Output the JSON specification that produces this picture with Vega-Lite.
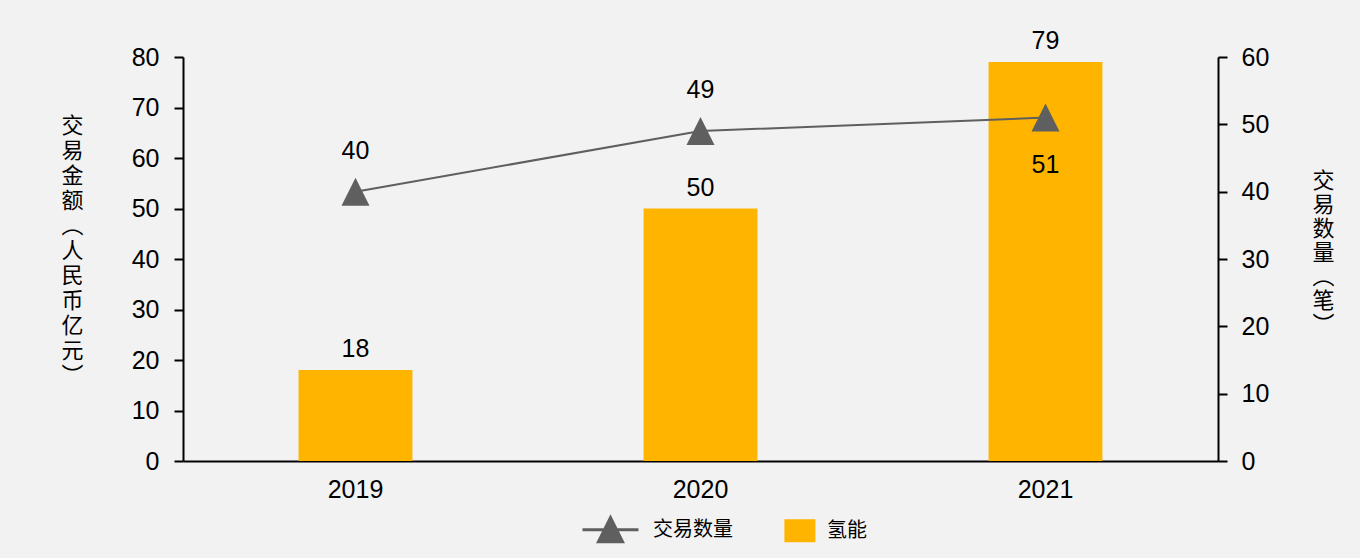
{
  "$schema": "https://vega.github.io/schema/vega-lite/v6.json",
  "width": 1035,
  "height": 404,
  "autosize": {"type": "none"},
  "padding": {"left": 183, "top": 57, "right": 142, "bottom": 97},
  "background": "#f2f2f2",
  "config": {
    "view": {"stroke": null},
    "axis": {
      "grid": false,
      "domainColor": "#000000",
      "domainWidth": 2,
      "tickColor": "#000000",
      "tickWidth": 2,
      "tickSize": 9,
      "labelColor": "#000000",
      "labelFont": "Liberation Sans",
      "labelFontSize": 25,
      "titleColor": "#000000",
      "titleFont": "Noto Sans CJK SC",
      "titleFontWeight": "normal",
      "titleFontSize": 22
    }
  },
  "data": {
    "values": [
      {"year": "2019", "amount": 18, "count": 40},
      {"year": "2020", "amount": 50, "count": 49},
      {"year": "2021", "amount": 79, "count": 51}
    ]
  },
  "encoding": {
    "x": {
      "field": "year",
      "type": "nominal",
      "scale": {"paddingInner": 0, "paddingOuter": 0},
      "axis": {"title": null, "labelAngle": 0, "ticks": false, "labelPadding": 16}
    }
  },
  "layer": [
    {
      "layer": [
        {
          "mark": {"type": "bar", "width": {"band": 0.33}},
          "encoding": {
            "y": {
              "field": "amount",
              "type": "quantitative",
              "scale": {"domain": [0, 80]},
              "axis": {
                "values": [0, 10, 20, 30, 40, 50, 60, 70, 80],
                "labelPadding": 15,
                "title": ["交", "易", "金", "额", "︵", "人", "民", "币", "亿", "元", "︶"],
                "titleAngle": 0,
                "titleAlign": "center",
                "titleBaseline": "top",
                "titleX": -111,
                "titleY": 58,
                "titleLineHeight": 25
              }
            },
            "color": {
              "datum": "氢能",
              "type": "nominal",
              "scale": {"domain": ["交易数量", "氢能"], "range": ["#5f5f5f", "#ffb500"]},
              "legend": {
                "orient": "none",
                "legendX": 405,
                "legendY": 443,
                "direction": "horizontal",
                "title": null,
                "padding": 0,
                "symbolSize": 3136,
                "symbolStrokeWidth": 3,
                "labelFont": "Noto Sans CJK SC",
                "labelFontSize": 20,
                "labelColor": "#000000",
                "labelOffset": 6,
                "columnPadding": 29,
                "encode": {
                  "symbols": {
                    "update": {
                      "shape": {"signal": "datum.value === '交易数量' ? 'M-1.25,0H0.75M-0.25,-0.43L0.18,0.43L-0.68,0.43Z' : 'M-0.2,-0.36H0.8V0.36H-0.2Z'"},
                      "fill": {"scale": "color", "field": "value"},
                      "stroke": {"scale": "color", "field": "value"},
                      "strokeWidth": {"value": 3},
                      "opacity": {"value": 1},
                      "fillOpacity": {"value": 1}
                    }
                  }
                }
              }
            }
          }
        },
        {
          "mark": {"type": "text", "baseline": "alphabetic", "dy": -13, "font": "Liberation Sans", "fontSize": 25, "color": "#000000"},
          "encoding": {
            "y": {"field": "amount", "type": "quantitative"},
            "text": {"field": "amount", "type": "quantitative"}
          }
        }
      ]
    },
    {
      "layer": [
        {
          "mark": {"type": "line", "strokeWidth": 2},
          "encoding": {
            "y": {
              "field": "count",
              "type": "quantitative",
              "scale": {"domain": [0, 60]},
              "axis": {
                "orient": "right",
                "values": [0, 10, 20, 30, 40, 50, 60],
                "labelPadding": 14,
                "title": ["交", "易", "数", "量", "︵", "笔", "︶"],
                "titleAngle": 0,
                "titleAlign": "center",
                "titleBaseline": "top",
                "titleX": 105,
                "titleY": 113,
                "titleLineHeight": 24
              }
            },
            "color": {"datum": "交易数量", "type": "nominal"}
          }
        },
        {
          "mark": {"type": "point", "filled": true, "opacity": 1, "shape": "M0,-1L1,1L-1,1Z", "size": 784, "color": "#5f5f5f"},
          "encoding": {
            "y": {"field": "count", "type": "quantitative"}
          }
        },
        {
          "transform": [{"filter": "datum.year != '2021'"}],
          "mark": {"type": "text", "baseline": "alphabetic", "dy": -33, "font": "Liberation Sans", "fontSize": 25, "color": "#000000"},
          "encoding": {
            "y": {"field": "count", "type": "quantitative"},
            "text": {"field": "count", "type": "quantitative"}
          }
        },
        {
          "transform": [{"filter": "datum.year == '2021'"}],
          "mark": {"type": "text", "baseline": "alphabetic", "dy": 55, "font": "Liberation Sans", "fontSize": 25, "color": "#000000"},
          "encoding": {
            "y": {"field": "count", "type": "quantitative"},
            "text": {"field": "count", "type": "quantitative"}
          }
        }
      ]
    }
  ],
  "resolve": {"scale": {"y": "independent"}}
}
